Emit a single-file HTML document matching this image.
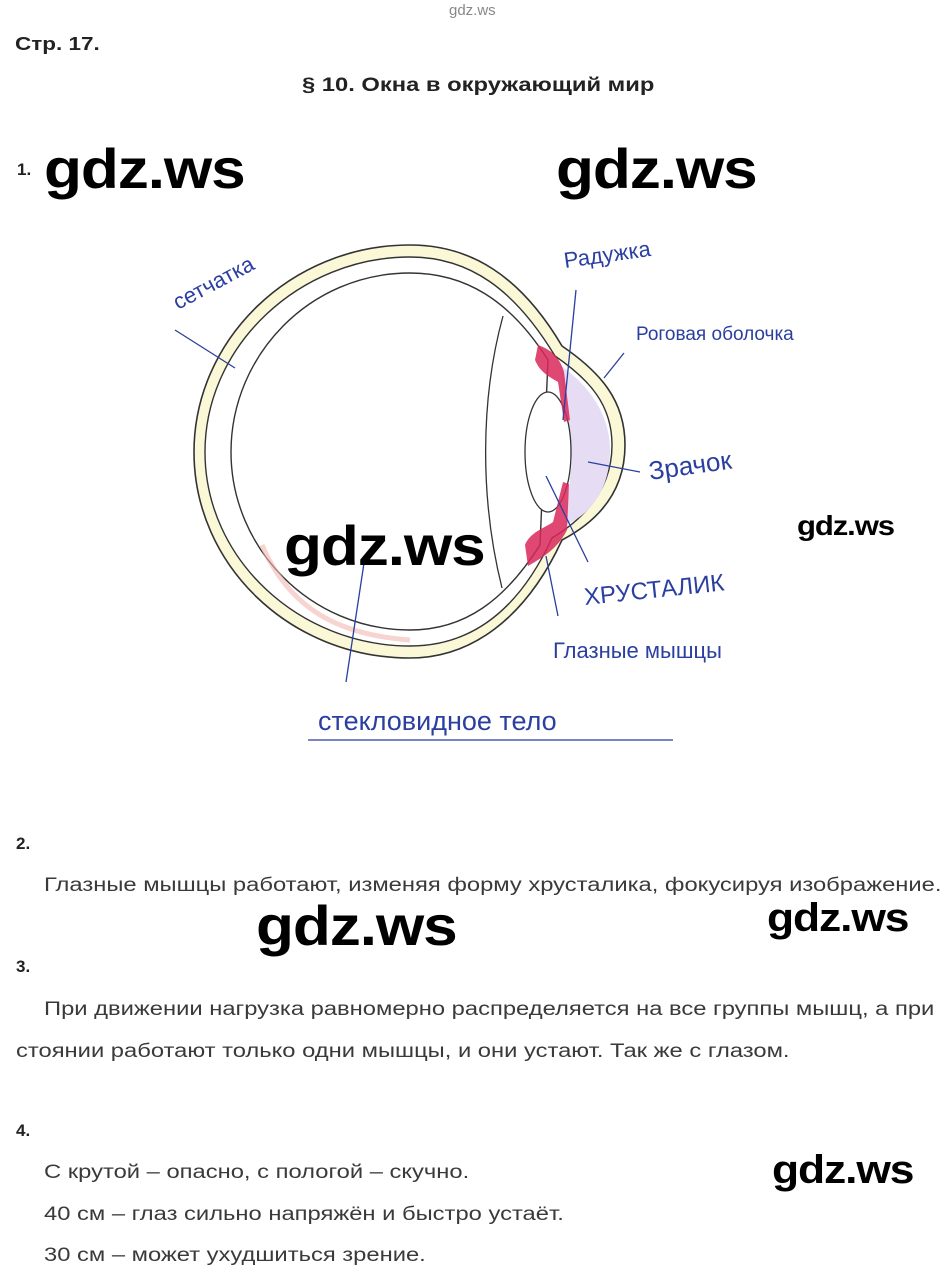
<!DOCTYPE html>
<html><head><meta charset="utf-8">
<style>
body{margin:0;background:#fff;width:952px;height:1282px;position:relative;overflow:hidden;font-family:"Liberation Sans",sans-serif;color:#333}
.a{position:absolute;white-space:nowrap}
.s{transform:scaleX(1.25);transform-origin:0 0}
.b{font-weight:bold}
.w{position:absolute;font-family:"Liberation Sans",sans-serif;font-weight:bold;color:#000;white-space:nowrap;letter-spacing:-1px;transform:scaleX(1.11);transform-origin:0 0}
.t{font-size:19px;color:#3a3a3a}
.h{font-family:"Liberation Sans",sans-serif;fill:#2a3fa0;font-size:22px}
</style></head><body>
<div class="a" style="left:449px;top:2px;font-size:15px;color:#888">gdz.ws</div>
<div class="a b s" style="left:15px;top:34px;font-size:18px;color:#222">Стр. 17.</div>
<div class="a b s" style="left:302px;top:75px;font-size:19px;color:#222">§ 10. Окна в окружающий мир</div>
<div class="a b" style="left:17px;top:160px;font-size:17px;color:#222">1.</div>
<div class="w" style="left:44px;top:136px;font-size:56px">gdz.ws</div>
<div class="w" style="left:556px;top:136px;font-size:56px">gdz.ws</div>

<svg class="a" style="left:0;top:0" width="952" height="800" viewBox="0 0 952 800">
 <path d="M562,346 C520,275 470,245 410,245 C290,245 194,340 194,452 C194,565 290,658 410,658 C470,658 525,620 562,540 C600,520 625,490 625,445 C625,400 600,372 562,346 Z" fill="#fbf8d8" stroke="#333" stroke-width="1.6"/>
 <path d="M555,356 C515,290 470,257 410,257 C300,257 205,345 205,452 C205,560 300,646 410,646 C470,646 518,612 552,538 C590,515 612,485 612,445 C612,405 590,380 555,356 Z" fill="#fff" stroke="#333" stroke-width="1.4"/>
 <path d="M548,360 C510,300 465,273 410,273 C310,273 231,355 231,452 C231,548 310,630 410,630 C465,630 505,600 540,545 Z" fill="#fff" stroke="#333" stroke-width="1.4"/>
 <path d="M262,545 C290,610 340,635 410,640" fill="none" stroke="#f2b8b0" stroke-width="5" opacity=".6"/>
 <path d="M560,365 C595,390 610,420 610,450 C610,490 590,515 565,525 L572,460 Z" fill="#e6dcf4"/>
 <path d="M503,316 C480,400 480,500 502,588" fill="none" stroke="#333" stroke-width="1.3"/>
 <ellipse cx="548" cy="452" rx="23" ry="60" fill="#fff" stroke="#333" stroke-width="1.3"/>
 <path d="M538,345 C552,350 560,358 564,372 L570,420 L564,422 L558,382 C548,376 540,372 535,360 Z" fill="#d8285a" opacity=".85"/>
 <path d="M525,545 C530,532 545,528 553,522 L563,482 L569,484 L567,530 C558,548 545,556 528,566 Z" fill="#d8285a" opacity=".85"/>
 <g stroke="#2a3fa0" stroke-width="1.3" fill="none">
  <line x1="175" y1="330" x2="235" y2="368"/>
  <line x1="576" y1="290" x2="563" y2="420"/>
  <line x1="624" y1="353" x2="604" y2="378"/>
  <line x1="588" y1="462" x2="640" y2="472"/>
  <line x1="546" y1="476" x2="588" y2="562"/>
  <line x1="546" y1="556" x2="558" y2="616"/>
  <line x1="364" y1="563" x2="346" y2="682"/>
  <line x1="308" y1="740" x2="673" y2="740"/>
 </g>
 <text class="h" transform="translate(178,310) rotate(-28)">сетчатка</text>
 <text class="h" x="565" y="268" transform="rotate(-8 565 268)">Радужка</text>
 <text class="h" x="636" y="340" style="font-size:19px">Роговая оболочка</text>
 <text class="h" x="650" y="480" style="font-size:26px" transform="rotate(-8 650 480)">Зрачок</text>
 <text class="h" x="585" y="605" style="font-size:24px" transform="rotate(-6 585 605)">ХРУСТАЛИК</text>
 <text class="h" x="553" y="658">Глазные мышцы</text>
 <text class="h" x="318" y="730" style="font-size:27px">стекловидное тело</text>
</svg>
<div class="w" style="left:284px;top:513px;font-size:56px">gdz.ws</div>
<div class="w" style="left:797px;top:510px;font-size:28px">gdz.ws</div>

<div class="a b" style="left:16px;top:834px;font-size:17px;color:#222">2.</div>
<div class="a t s" style="left:44px;top:875px">Глазные мышцы работают, изменяя форму хрусталика, фокусируя изображение.</div>
<div class="w" style="left:256px;top:893px;font-size:56px">gdz.ws</div>
<div class="w" style="left:767px;top:896px;font-size:40px">gdz.ws</div>
<div class="a b" style="left:16px;top:957px;font-size:17px;color:#222">3.</div>
<div class="a t s" style="left:44px;top:999px">При движении нагрузка равномерно распределяется на все группы мышц, а при</div>
<div class="a t s" style="left:16px;top:1041px">стоянии работают только одни мышцы, и они устают. Так же с глазом.</div>
<div class="a b" style="left:16px;top:1121px;font-size:17px;color:#222">4.</div>
<div class="a t s" style="left:44px;top:1162px">С крутой – опасно, с пологой – скучно.</div>
<div class="a t s" style="left:44px;top:1204px">40 см – глаз сильно напряжён и быстро устаёт.</div>
<div class="a t s" style="left:44px;top:1245px">30 см – может ухудшиться зрение.</div>
<div class="w" style="left:772px;top:1148px;font-size:40px">gdz.ws</div>
</body></html>
